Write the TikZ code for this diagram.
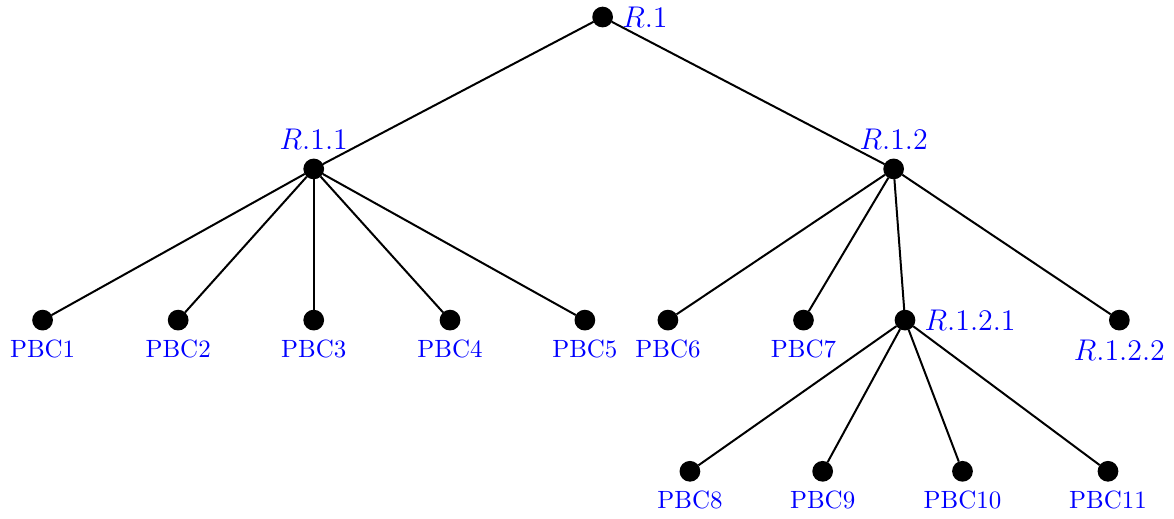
\documentclass[tikz,border=0pt]{standalone}
\usetikzlibrary{positioning}

\begin{document}
\begin{tikzpicture}[thick, dot/.style={draw, circle, fill, inner sep=0pt, minimum size=7.5pt},
    every label/.style={blue}, rlabel/.style={font=\large}]
  \useasboundingbox (0,0) rectangle (16.54,7.30);
  % root and inner nodes
  \node [dot, label={[rlabel]right:$R.1$}] (r1) at (8.49,7.06) {};
  \node [dot, label={[rlabel]above:$R.1.1$}] (r11) at (4.42,4.92) {};
  \node [dot, label={[rlabel]above:$R.1.2$}] (r12) at (12.59,4.92) {};
  \node [dot, label={[rlabel]right:$R.1.2.1$}] (r121) at (12.75,2.79) {};
  \node [dot, label={[rlabel]below:$R.1.2.2$}] (r122) at (15.77,2.79) {};
  % leaves
  \foreach \x/\i in {0.60/1, 2.51/2, 4.42/3, 6.34/4, 8.24/5, 9.41/6, 11.32/7} {
    \node [dot, label=below:PBC\i] (p\i) at (\x,2.79) {};
  }
  \foreach \x/\i in {9.72/8, 11.59/9, 13.56/10, 15.61/11} {
    \node [dot, label=below:PBC\i] (p\i) at (\x,0.66) {};
  }
  % edges
  \draw (r1) -- (r11);
  \draw (r1) -- (r12);
  \foreach \i in {1,...,5} \draw (r11) -- (p\i);
  \foreach \j in {p6, p7, r121, r122} \draw (r12) -- (\j);
  \foreach \i in {8,...,11} \draw (r121) -- (p\i);
\end{tikzpicture}
\end{document}
